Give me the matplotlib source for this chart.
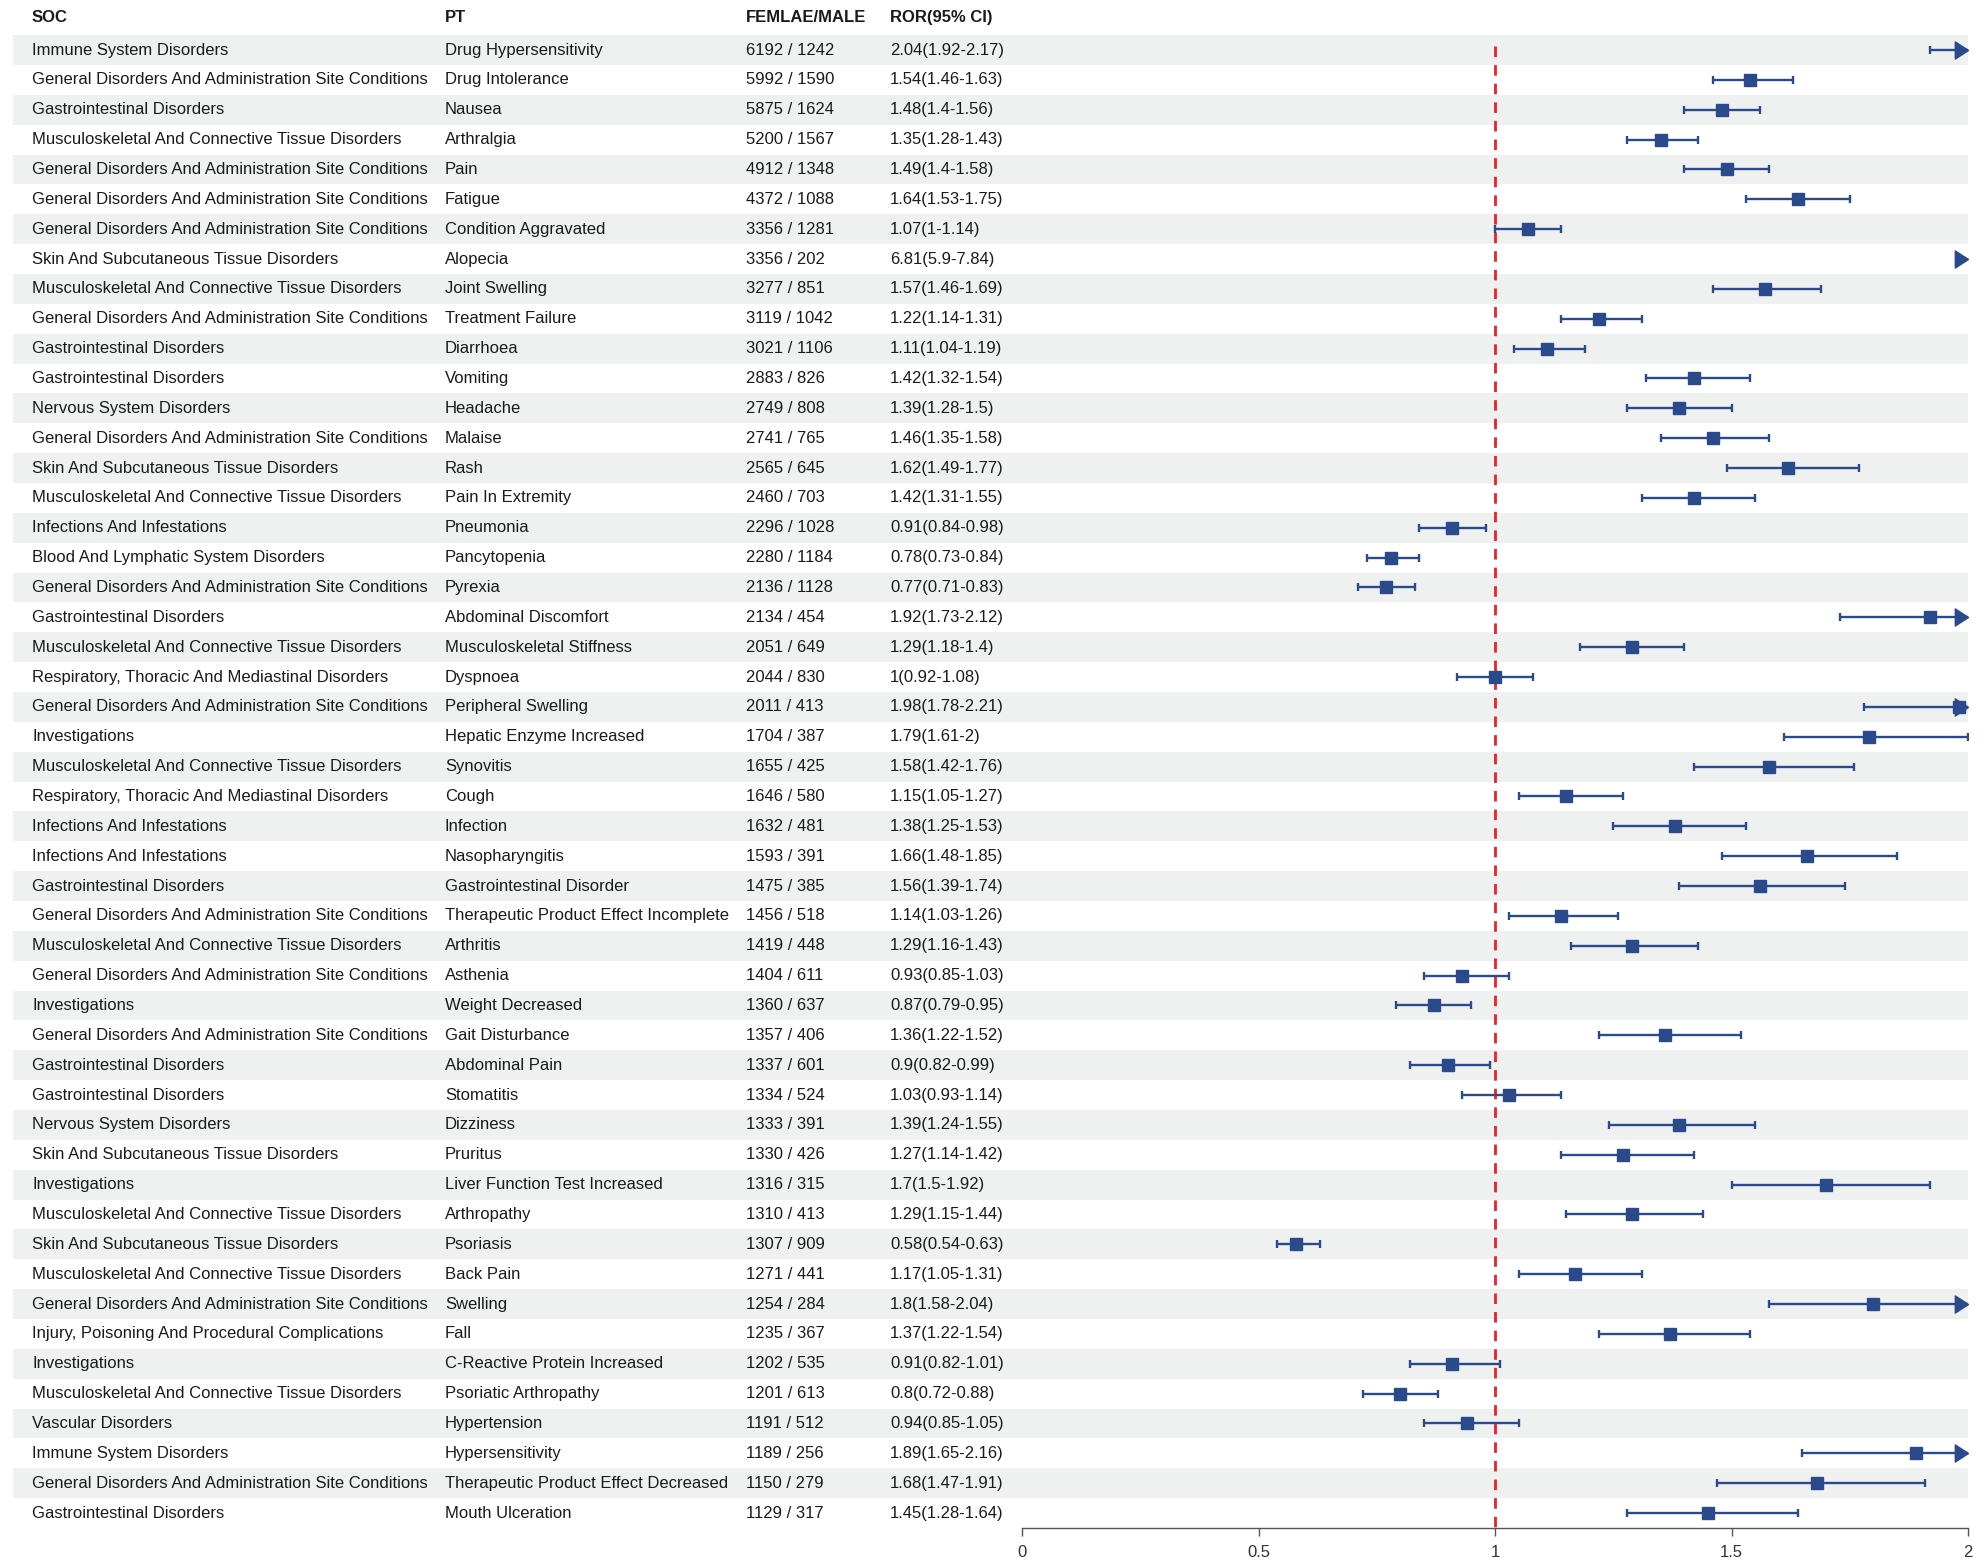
import matplotlib.pyplot as plt
import numpy as np

plt.rcParams['font.family'] = ['Liberation Sans', 'DejaVu Sans']

soc = [
    "Immune System Disorders",
    "General Disorders And Administration Site Conditions",
    "Gastrointestinal Disorders",
    "Musculoskeletal And Connective Tissue Disorders",
    "General Disorders And Administration Site Conditions",
    "General Disorders And Administration Site Conditions",
    "General Disorders And Administration Site Conditions",
    "Skin And Subcutaneous Tissue Disorders",
    "Musculoskeletal And Connective Tissue Disorders",
    "General Disorders And Administration Site Conditions",
    "Gastrointestinal Disorders",
    "Gastrointestinal Disorders",
    "Nervous System Disorders",
    "General Disorders And Administration Site Conditions",
    "Skin And Subcutaneous Tissue Disorders",
    "Musculoskeletal And Connective Tissue Disorders",
    "Infections And Infestations",
    "Blood And Lymphatic System Disorders",
    "General Disorders And Administration Site Conditions",
    "Gastrointestinal Disorders",
    "Musculoskeletal And Connective Tissue Disorders",
    "Respiratory, Thoracic And Mediastinal Disorders",
    "General Disorders And Administration Site Conditions",
    "Investigations",
    "Musculoskeletal And Connective Tissue Disorders",
    "Respiratory, Thoracic And Mediastinal Disorders",
    "Infections And Infestations",
    "Infections And Infestations",
    "Gastrointestinal Disorders",
    "General Disorders And Administration Site Conditions",
    "Musculoskeletal And Connective Tissue Disorders",
    "General Disorders And Administration Site Conditions",
    "Investigations",
    "General Disorders And Administration Site Conditions",
    "Gastrointestinal Disorders",
    "Gastrointestinal Disorders",
    "Nervous System Disorders",
    "Skin And Subcutaneous Tissue Disorders",
    "Investigations",
    "Musculoskeletal And Connective Tissue Disorders",
    "Skin And Subcutaneous Tissue Disorders",
    "Musculoskeletal And Connective Tissue Disorders",
    "General Disorders And Administration Site Conditions",
    "Injury, Poisoning And Procedural Complications",
    "Investigations",
    "Musculoskeletal And Connective Tissue Disorders",
    "Vascular Disorders",
    "Immune System Disorders",
    "General Disorders And Administration Site Conditions",
    "Gastrointestinal Disorders",
]

pt = [
    "Drug Hypersensitivity", "Drug Intolerance", "Nausea", "Arthralgia", "Pain",
    "Fatigue", "Condition Aggravated", "Alopecia", "Joint Swelling", "Treatment Failure",
    "Diarrhoea", "Vomiting", "Headache", "Malaise", "Rash",
    "Pain In Extremity", "Pneumonia", "Pancytopenia", "Pyrexia", "Abdominal Discomfort",
    "Musculoskeletal Stiffness", "Dyspnoea", "Peripheral Swelling", "Hepatic Enzyme Increased", "Synovitis",
    "Cough", "Infection", "Nasopharyngitis", "Gastrointestinal Disorder", "Therapeutic Product Effect Incomplete",
    "Arthritis", "Asthenia", "Weight Decreased", "Gait Disturbance", "Abdominal Pain",
    "Stomatitis", "Dizziness", "Pruritus", "Liver Function Test Increased", "Arthropathy",
    "Psoriasis", "Back Pain", "Swelling", "Fall", "C-Reactive Protein Increased",
    "Psoriatic Arthropathy", "Hypertension", "Hypersensitivity", "Therapeutic Product Effect Decreased", "Mouth Ulceration",
]

female = [6192, 5992, 5875, 5200, 4912, 4372, 3356, 3356, 3277, 3119,
          3021, 2883, 2749, 2741, 2565, 2460, 2296, 2280, 2136, 2134,
          2051, 2044, 2011, 1704, 1655, 1646, 1632, 1593, 1475, 1456,
          1419, 1404, 1360, 1357, 1337, 1334, 1333, 1330, 1316, 1310,
          1307, 1271, 1254, 1235, 1202, 1201, 1191, 1189, 1150, 1129]
male = [1242, 1590, 1624, 1567, 1348, 1088, 1281, 202, 851, 1042,
        1106, 826, 808, 765, 645, 703, 1028, 1184, 1128, 454,
        649, 830, 413, 387, 425, 580, 481, 391, 385, 518,
        448, 611, 637, 406, 601, 524, 391, 426, 315, 413,
        909, 441, 284, 367, 535, 613, 512, 256, 279, 317]

ror = np.array([2.04, 1.54, 1.48, 1.35, 1.49, 1.64, 1.07, 6.81, 1.57, 1.22,
                1.11, 1.42, 1.39, 1.46, 1.62, 1.42, 0.91, 0.78, 0.77, 1.92,
                1.29, 1.0, 1.98, 1.79, 1.58, 1.15, 1.38, 1.66, 1.56, 1.14,
                1.29, 0.93, 0.87, 1.36, 0.9, 1.03, 1.39, 1.27, 1.7, 1.29,
                0.58, 1.17, 1.8, 1.37, 0.91, 0.8, 0.94, 1.89, 1.68, 1.45])
ci_low = np.array([1.92, 1.46, 1.4, 1.28, 1.4, 1.53, 1.0, 5.9, 1.46, 1.14,
                   1.04, 1.32, 1.28, 1.35, 1.49, 1.31, 0.84, 0.73, 0.71, 1.73,
                   1.18, 0.92, 1.78, 1.61, 1.42, 1.05, 1.25, 1.48, 1.39, 1.03,
                   1.16, 0.85, 0.79, 1.22, 0.82, 0.93, 1.24, 1.14, 1.5, 1.15,
                   0.54, 1.05, 1.58, 1.22, 0.82, 0.72, 0.85, 1.65, 1.47, 1.28])
ci_high = np.array([2.17, 1.63, 1.56, 1.43, 1.58, 1.75, 1.14, 7.84, 1.69, 1.31,
                    1.19, 1.54, 1.5, 1.58, 1.77, 1.55, 0.98, 0.84, 0.83, 2.12,
                    1.4, 1.08, 2.21, 2.0, 1.76, 1.27, 1.53, 1.85, 1.74, 1.26,
                    1.43, 1.03, 0.95, 1.52, 0.99, 1.14, 1.55, 1.42, 1.92, 1.44,
                    0.63, 1.31, 2.04, 1.54, 1.01, 0.88, 1.05, 2.16, 1.91, 1.64])

headers = ["SOC", "PT", "FEMLAE/MALE", "ROR(95% CI)"]
xticks = [0, 0.5, 1, 1.5, 2]
xticklabels = ["0", "0.5", "1", "1.5", "2"]

blue = "#2a4a8c"
band = "#eef1f0"
txt = "#1a1a1a"

n = len(pt)
y = np.arange(n)

# figure laid out in pixels
W, H = 1984, 1564
fig = plt.figure(figsize=(W / 100, H / 100), dpi=100)

row0_px, rowlast_px, axis_px = 50, 1513, 1528
step = (rowlast_px - row0_px) / (n - 1)
ytop = -row0_px / step
ybot = (axis_px - row0_px) / step
bottom = 1 - axis_px / H

# table part (full width)
tab = fig.add_axes([0, bottom, 1, 1 - bottom])
tab.set_xlim(0, W)
tab.set_ylim(ybot, ytop)
tab.axis('off')

for i in range(0, n, 2):
    tab.axhspan(i - 0.5, i + 0.5, xmin=13 / W, xmax=1968 / W, color=band, lw=0, zorder=0)

col_x = [32, 445, 746, 890]
head_y = (17 - row0_px) / step
for cx, h in zip(col_x, headers):
    tab.text(cx, head_y, h, fontsize=12, fontweight='bold', color=txt, va='center', ha='left')

fm = [f"{f} / {m}" for f, m in zip(female, male)]
ror_txt = [f"{r:g}({l:g}-{h:g})" for r, l, h in zip(ror, ci_low, ci_high)]
for i in range(n):
    for cx, s in zip(col_x, [soc[i], pt[i], fm[i], ror_txt[i]]):
        tab.text(cx, y[i], s, fontsize=12, color=txt, va='center', ha='left')

# forest part
x0, x1 = 1022, 1968
ax = fig.add_axes([x0 / W, bottom, (x1 - x0) / W, 1 - bottom])
ax.set_xlim(0, 2)
ax.set_ylim(ybot, ytop)
ax.patch.set_alpha(0)
for s in ['top', 'right', 'left']:
    ax.spines[s].set_visible(False)
ax.spines['bottom'].set_color('#555555')
ax.spines['bottom'].set_linewidth(1)
ax.set_yticks([])
ax.set_xticks(xticks)
ax.set_xticklabels(xticklabels, fontsize=12, color='#333333')
ax.tick_params(axis='x', length=6, width=1, color='#555555', pad=6)

ax.vlines(1, -0.15, n - 0.5, colors='#ee1f26', linestyles=(0, (3.8, 2.9)), lw=2, zorder=1)

ax.errorbar(ror, y, xerr=[ror - ci_low, ci_high - ror], fmt='s', color=blue,
            ms=8, elinewidth=1.7, capsize=3.2, capthick=1.7, zorder=3)

# arrows where CI runs past the axis
arrow = [(0, 0), (-1, 0.65), (-1, -0.65), (0, 0)]
over = ci_high > 2
ax.plot(np.full(over.sum(), 2.0), y[over], ls='none', marker=arrow, ms=19,
        color=blue, clip_on=False, zorder=4)

fig.savefig("out.png", dpi=100)
